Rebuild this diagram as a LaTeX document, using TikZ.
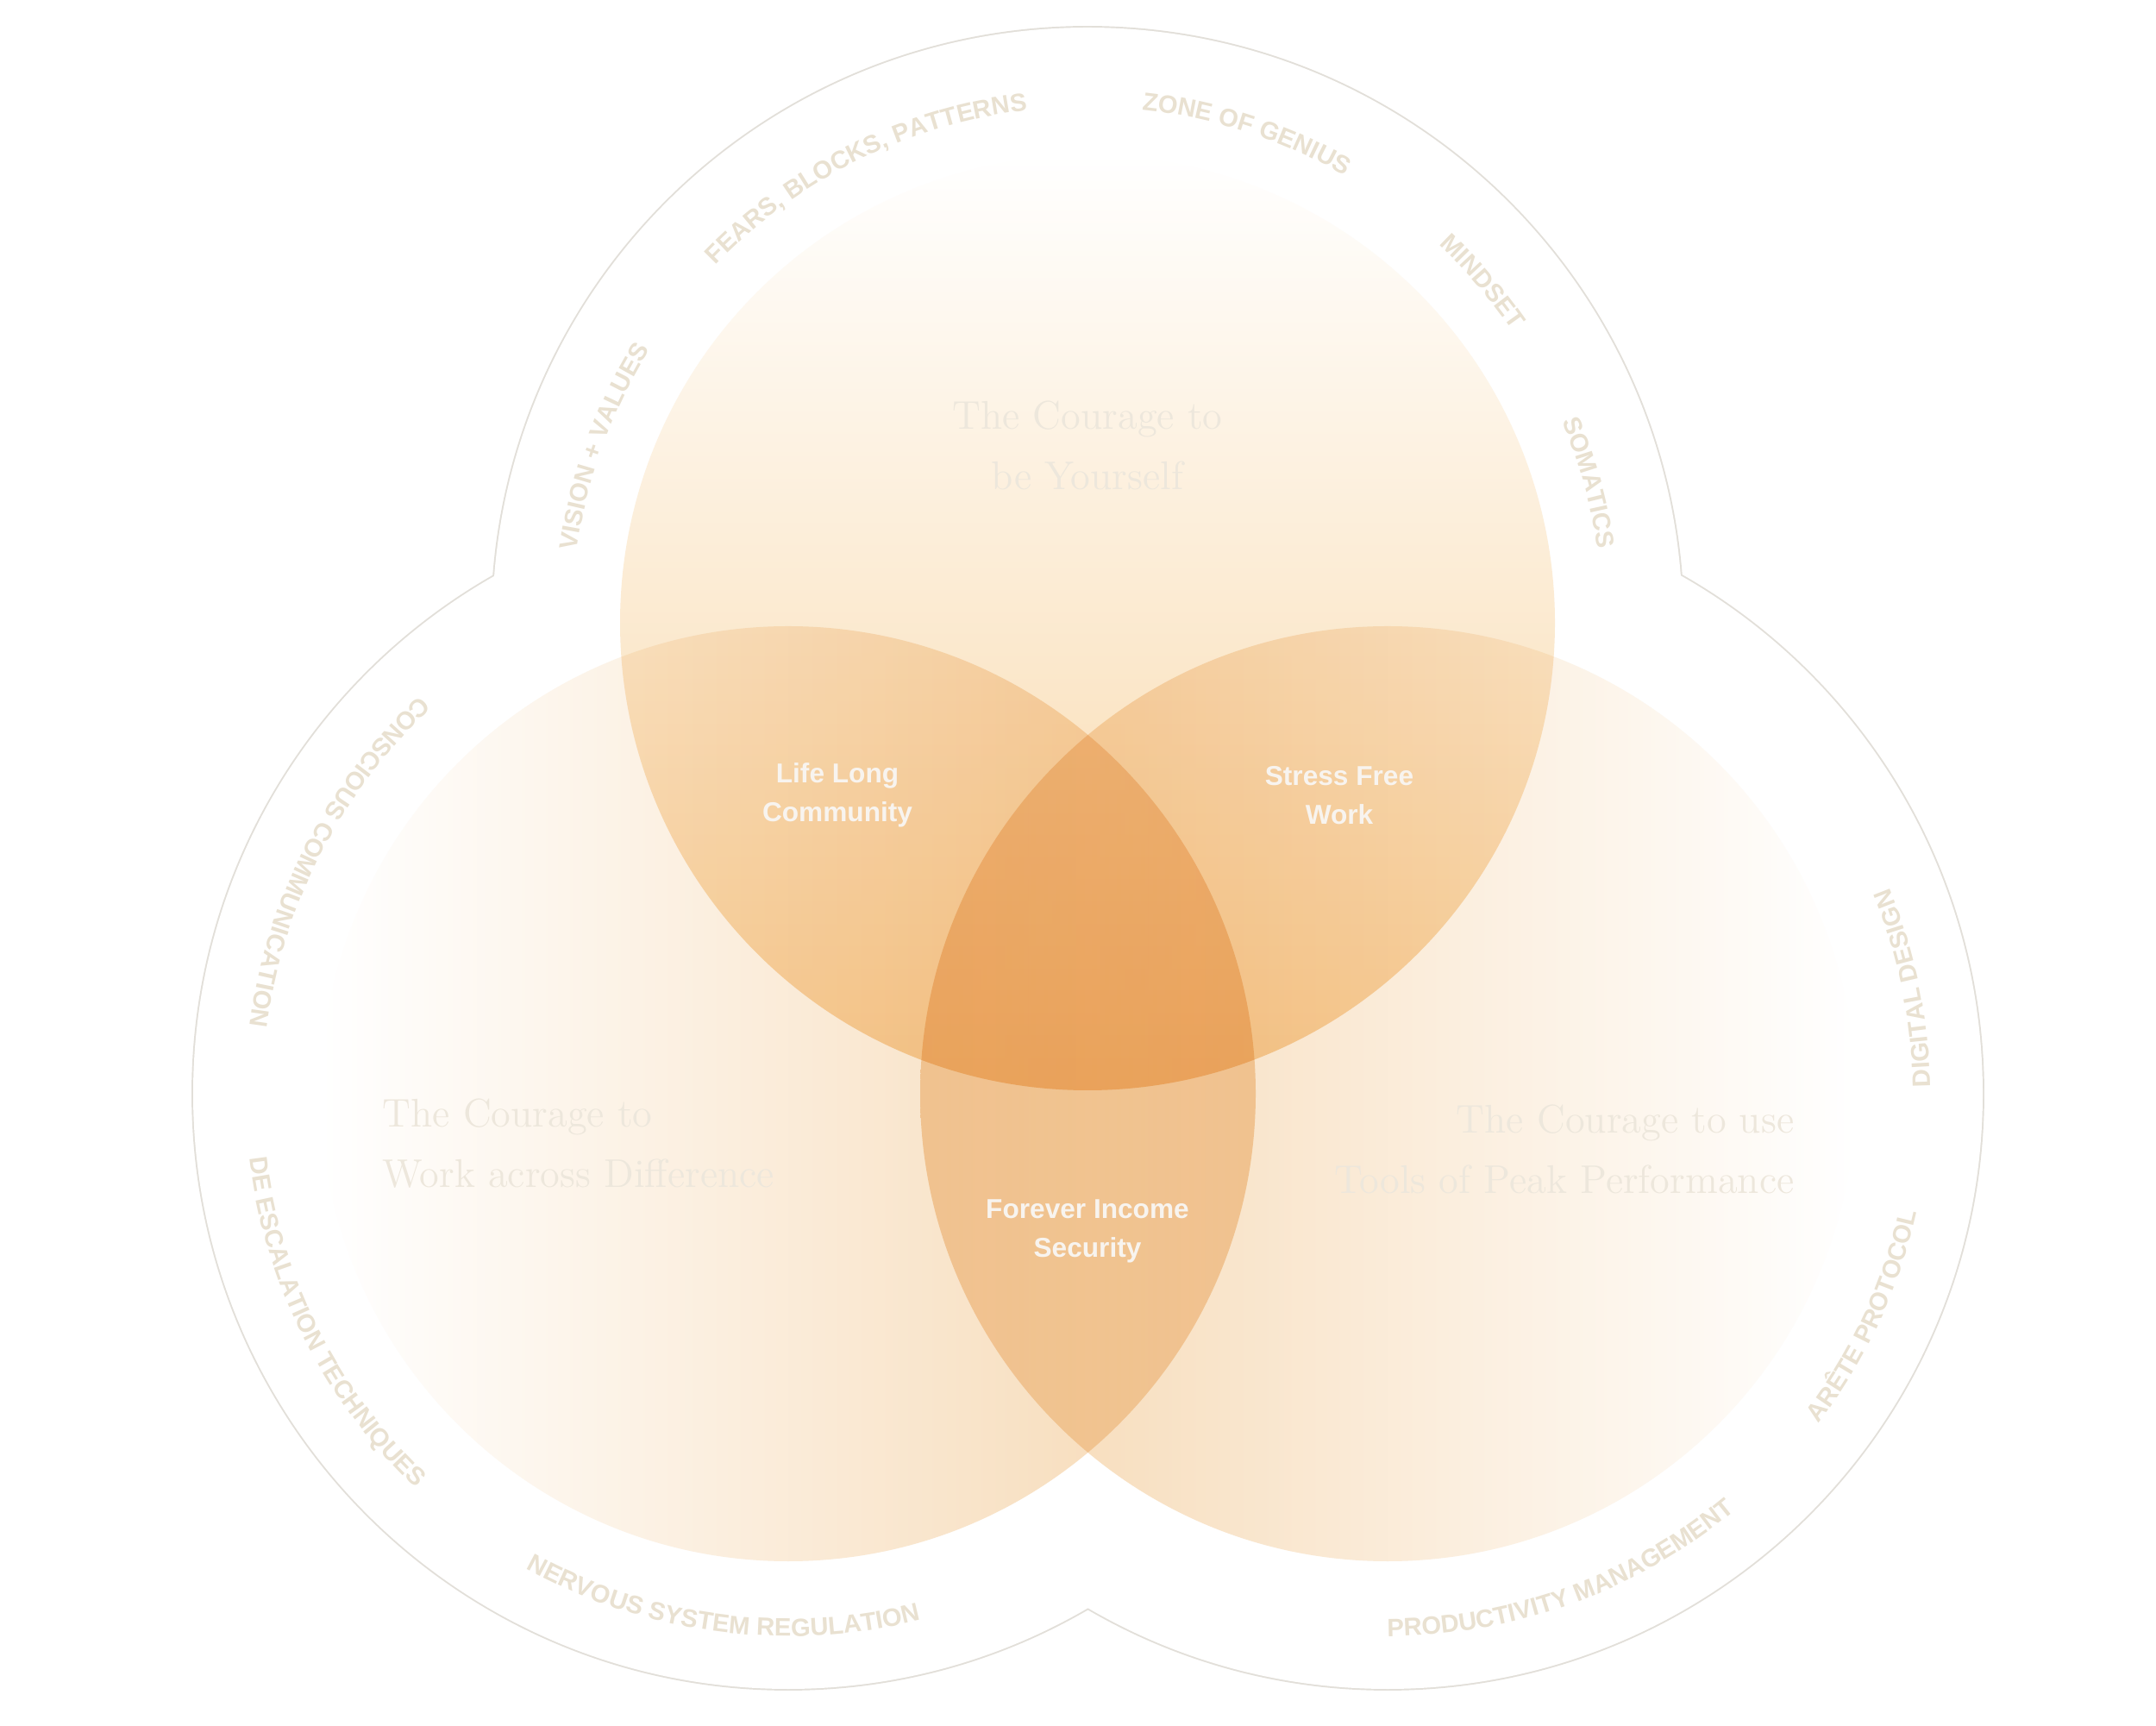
\documentclass[tikz,border=0pt]{standalone}
\usepackage{fontspec}
\setsansfont{Liberation Sans}
\usetikzlibrary{decorations.text}

\definecolor{rimgrey}{HTML}{E2DFD9}
\definecolor{labelbeige}{HTML}{E9E1D1}
\definecolor{titlebeige}{HTML}{EDE7DC}
\definecolor{lenswhite}{HTML}{F8F4EF}
\definecolor{ochretop}{HTML}{F8D5A2}
\definecolor{ochreside}{HTML}{F6D8B2}

\newcommand{\arclabelfont}{\fontsize{8.3}{10}\selectfont\sffamily\bfseries}

\begin{document}
\begin{tikzpicture}[
        title/.style={font=\fontsize{13.2}{19.9}\selectfont, text=titlebeige, inner sep=0pt},
        lens/.style={font=\fontsize{9}{12.8}\selectfont\sffamily\bfseries, text=lenswhite, align=center, inner sep=0pt},
        rimlabel/.style={decorate, decoration={text along path, text align=center, text color=labelbeige, text={|\arclabelfont|#1}}}
    ]
    \useasboundingbox (0,0) rectangle (25,20);
    \coordinate (T) at (12.61,12.78);
    \coordinate (L) at (9.14,7.32);
    \coordinate (R) at (16.09,7.32);

    % Outer rim
    \foreach \c in {T,L,R}
        \draw[rimgrey, line width=1.1pt] (\c) circle (6.9);
    \foreach \c in {T,L,R}
        \fill[white] (\c) circle (6.9);

    % Courage circles
    \shade[blend mode=multiply, top color=white, middle color=ochretop!25!white, bottom color=ochretop] (T) circle (5.42);
    \shade[blend mode=multiply, left color=white, middle color=ochreside!40!white, right color=ochreside] (L) circle (5.42);
    \shade[blend mode=multiply, left color=ochreside, middle color=ochreside!40!white, right color=white] (R) circle (5.42);

    % Rim labels, top circle
    \path[rimlabel={VISION + VALUES}] ([shift={(200:5.98)}]T) arc[start angle=200, end angle=120, radius=5.98];
    \path[rimlabel={FEARS, BLOCKS, PATTERNS}] ([shift={(156.4:5.98)}]T) arc[start angle=156.4, end angle=76.4, radius=5.98];
    \path[rimlabel={ZONE OF GENIUS}] ([shift={(112:5.98)}]T) arc[start angle=112, end angle=32, radius=5.98];
    \path[rimlabel={MINDSET}] ([shift={(80.8:5.98)}]T) arc[start angle=80.8, end angle=0.8, radius=5.98];
    \path[rimlabel={SOMATICS}] ([shift={(55.6:5.98)}]T) arc[start angle=55.6, end angle=-24.4, radius=5.98];

    % Rim labels, left circle
    \path[rimlabel={CONSCIOUS COMMUNICATION}] ([shift={(112.8:6.29)}]L) arc[start angle=112.8, end angle=192.8, radius=6.29];
    \path[rimlabel={DE ESCALATION TECHNIQUES}] ([shift={(166.7:6.29)}]L) arc[start angle=166.7, end angle=246.7, radius=6.29];
    \path[rimlabel={NERVOUS SYSTEM REGULATION}] ([shift={(222.6:6.29)}]L) arc[start angle=222.6, end angle=302.6, radius=6.29];

    % Rim labels, right circle
    \path[rimlabel={PRODUCTIVITY MANAGEMENT}] ([shift={(249.9:6.29)}]R) arc[start angle=249.9, end angle=329.9, radius=6.29];
    \path[rimlabel={ARÊTE PROTOCOL}] ([shift={(295:6.29)}]R) arc[start angle=295, end angle=375, radius=6.29];
    \path[rimlabel={DIGITAL DESIGN}] ([shift={(-28.5:6.29)}]R) arc[start angle=-28.5, end angle=51.5, radius=6.29];

    % Titles
    \node[title, align=center] (selftitle) at (12.61,14.84) {The Courage to\\be Yourself};
    \node[title, align=left, anchor=west] (difftitle) at (4.43,6.74) {The Courage to\\Work across Difference};
    \node[title, align=right, anchor=east] (tooltitle) at (20.81,6.68) {The Courage to use\\Tools of Peak Performance};

    % Overlaps
    \node[lens] (community) at (9.71,10.78) {Life Long\\Community};
    \node[lens] (stressfree) at (15.53,10.78) {Stress Free\\Work};
    \node[lens] (income) at (12.61,5.73) {Forever Income\\Security};
\end{tikzpicture}
\end{document}
